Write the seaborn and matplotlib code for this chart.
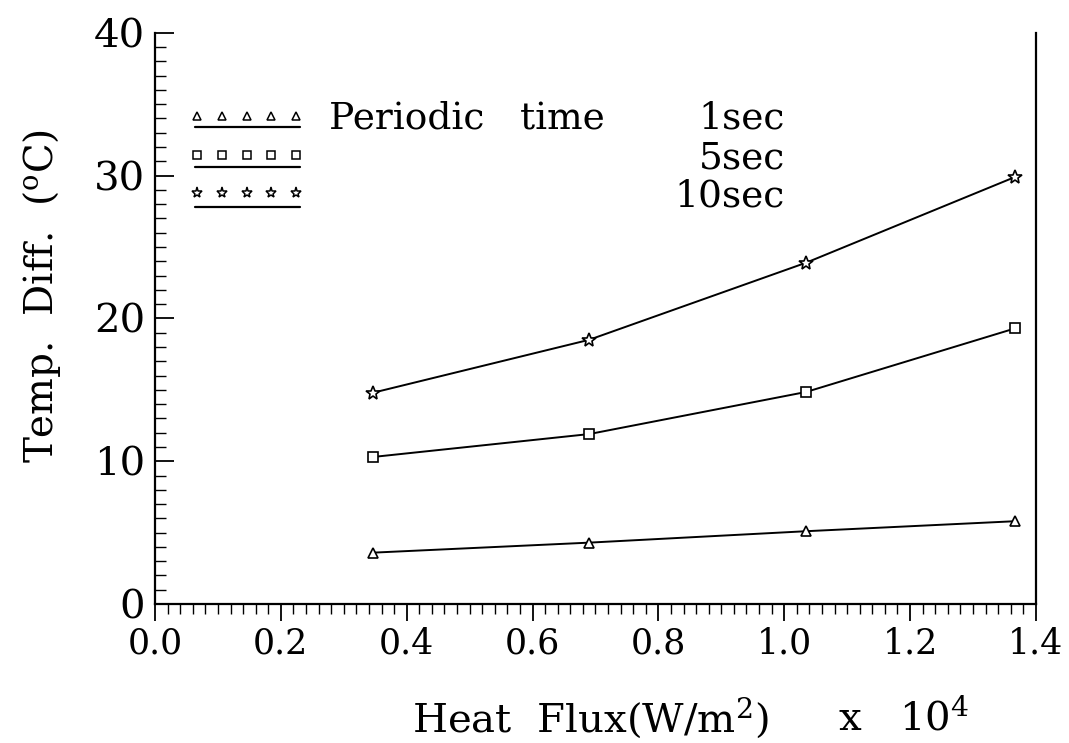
import matplotlib
matplotlib.use("Agg")
from matplotlib import pyplot as plt
from matplotlib.ticker import MultipleLocator, FormatStrFormatter
import numpy as np
import pandas as pd
import seaborn as sns

# values
heat_flux = [0.347, 0.69, 1.035, 1.367]
diff_1sec = [3.6, 4.3, 5.1, 5.8]
diff_5sec = [10.3, 11.9, 14.85, 19.3]
diff_10sec = [14.8, 18.5, 23.9, 29.9]

series_names = ["1sec", "5sec", "10sec"]
series_values = [diff_1sec, diff_5sec, diff_10sec]
series_markers = ["^", "s", "*"]

sns.set_theme(style="white")
plt.rcParams["font.family"] = ["DejaVu Serif"]
plt.rcParams["mathtext.fontset"] = "dejavuserif"
for key in ["text.color", "axes.labelcolor", "xtick.color", "ytick.color"]:
    plt.rcParams[key] = "black"

fig = plt.figure(figsize=(10.69, 7.43), dpi=100)
ax = fig.add_axes([0.145, 0.187, 0.824, 0.769])

df = pd.DataFrame({
    "flux": np.tile(heat_flux, 3),
    "diff": np.concatenate(series_values),
    "period": np.repeat(series_names, len(heat_flux)),
})

for name, mk in zip(series_names, series_markers):
    sub = df[df["period"] == name]
    sns.lineplot(data=sub, x="flux", y="diff", ax=ax, color="black", lw=1.4,
                 marker=mk, markersize=7 if mk != "*" else 10,
                 markerfacecolor="white", markeredgecolor="black",
                 markeredgewidth=1.2)

ax.set_xlim(0.0, 1.4)
ax.set_ylim(0, 40)
ax.xaxis.set_major_locator(MultipleLocator(0.2))
ax.xaxis.set_minor_locator(MultipleLocator(0.02))
ax.xaxis.set_major_formatter(FormatStrFormatter("%.1f"))
ax.yaxis.set_major_locator(MultipleLocator(10))
ax.yaxis.set_minor_locator(MultipleLocator(1))

ax.tick_params(axis="x", which="both", direction="out", bottom=True,
               labelsize=25, pad=4)
ax.tick_params(axis="x", which="major", length=12, width=1.3)
ax.tick_params(axis="x", which="minor", length=7, width=1.0)
ax.tick_params(axis="y", which="both", direction="in", left=True,
               labelsize=29, pad=7)
ax.tick_params(axis="y", which="major", length=14, width=1.3)
ax.tick_params(axis="y", which="minor", length=8, width=1.0)

for side in ["left", "bottom", "right"]:
    ax.spines[side].set_visible(True)
    ax.spines[side].set_color("black")
    ax.spines[side].set_linewidth(1.6)
ax.spines["top"].set_visible(False)

ax.set_xlabel("")
ax.set_ylabel(r"Temp.  Diff.  ($^{\rm o}$C)", fontsize=28)
ax.yaxis.set_label_coords(-0.104, 0.54)

# x axis title in two parts, as in the original
ax.text(0.292, -0.20, r"Heat  Flux(W/m$^2$)", ha="left", va="center",
        fontsize=29, transform=ax.transAxes)
ax.text(0.775, -0.20, r"x   10$^4$", ha="left", va="center",
        fontsize=29, transform=ax.transAxes)

# hand-drawn legend block in the upper left
row_y = [0.855, 0.786, 0.720]
line_y = [0.835, 0.765, 0.695]
text_y = [0.850, 0.780, 0.713]
legend_x = np.linspace(0.048, 0.160, 5)
for i, (name, mk) in enumerate(zip(series_names, series_markers)):
    ax.plot(legend_x, [row_y[i]] * 5, ls="none", marker=mk,
            markersize=6 if mk != "*" else 8, markerfacecolor="white",
            markeredgecolor="black", markeredgewidth=1.1,
            transform=ax.transAxes)
    ax.plot([0.045, 0.165], [line_y[i]] * 2, color="black", lw=1.6,
            transform=ax.transAxes)
    ax.text(0.715, text_y[i], name, ha="right", va="center",
            fontsize=27, transform=ax.transAxes)
ax.text(0.198, text_y[0], "Periodic   time", ha="left", va="center",
        fontsize=27, transform=ax.transAxes)

fig.savefig("out.png", dpi=100)
